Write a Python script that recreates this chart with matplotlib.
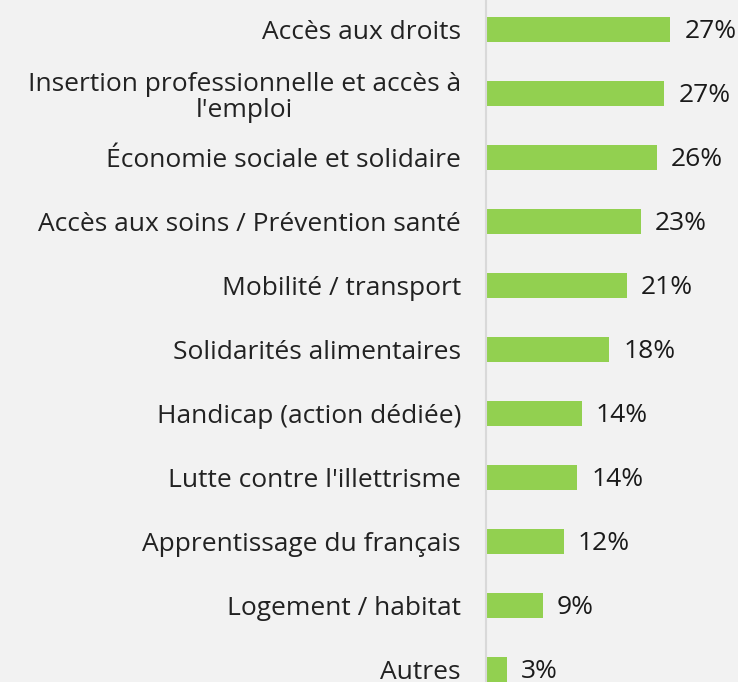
import matplotlib.pyplot as plt

categories = [
    "Accès aux droits",
    "Insertion professionnelle et accès à\nl'emploi",
    "Économie sociale et solidaire",
    "Accès aux soins / Prévention santé",
    "Mobilité / transport",
    "Solidarités alimentaires",
    "Handicap (action dédiée)",
    "Lutte contre l'illettrisme",
    "Apprentissage du français",
    "Logement / habitat",
    "Autres",
]
values = [27.5, 26.6, 25.5, 23.1, 21.0, 18.4, 14.3, 13.6, 11.6, 8.5, 3.1]
labels = ["27%", "27%", "26%", "23%", "21%", "18%", "14%", "14%", "12%", "9%", "3%"]

plt.rcParams['font.family'] = ['Open Sans', 'DejaVu Sans']

fig = plt.figure(figsize=(7.38, 6.82), dpi=100, facecolor='#F2F2F2')
ax = fig.add_axes([486 / 738, 0, 1 - 486 / 738, 1])
ax.set_facecolor('#F2F2F2')

pos = list(range(len(categories)))
ax.barh(pos, values, height=0.39, color='#92D050')

for p, v, lab in zip(pos, values, labels):
    ax.text(v + 2.1, p + 0.03, lab, va='center', ha='left', fontsize=19, color='#1a1a1a')

ax.set_yticks(pos)
ax.set_yticklabels(categories, fontsize=19, color='#222222', multialignment='center',
                   linespacing=1.1)
ax.tick_params(axis='y', length=0, pad=18)
ax.set_xticks([])

ax.set_xlim(0, (738 - 486) / 6.7)
ax.set_ylim(10.195, -0.461)

for s in ['top', 'right', 'bottom']:
    ax.spines[s].set_visible(False)
ax.spines['left'].set_color('#D9D9D9')
ax.spines['left'].set_linewidth(1.5)

fig.savefig('out.png', dpi=100, facecolor=fig.get_facecolor())
